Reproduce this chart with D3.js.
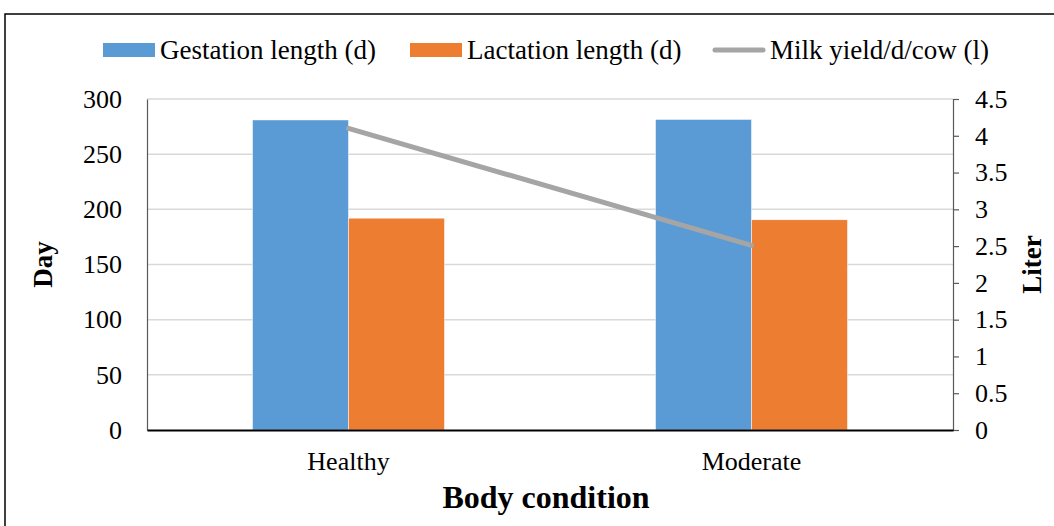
<!DOCTYPE html>
<html><head><meta charset="utf-8">
<script src="https://cdn.jsdelivr.net/npm/d3@7"></script>
<style>body{margin:0;background:#fff}svg{display:block}text{font-family:"Liberation Serif","Times New Roman",serif;fill:#000}</style>
</head><body><svg id="c" width="1054" height="526"></svg>
<script>
const categories = ["Healthy", "Moderate"];
const gestation = [281, 281.5];
const lactation = [192, 190.5];
const milkYield = [4.1, 2.51];
const leftTicks = [0, 50, 100, 150, 200, 250, 300];
const rightTicks = [0, 0.5, 1, 1.5, 2, 2.5, 3, 3.5, 4, 4.5];
const seriesNames = ["Gestation length (d)", "Lactation length (d)", "Milk yield/d/cow (l)"];
const colors = ["#5B9BD5", "#ED7D31", "#A5A5A5"];

const svg = d3.select("#c");
const fs = 26;
svg.append("rect").attr("x",5).attr("y",14).attr("width",1060).attr("height",530).attr("fill","none").attr("stroke","#000").attr("stroke-width",1.5);

const L=147,R=953,T=99,B=430;
const x = d3.scaleBand().domain(categories).range([L,R]);
const barW = 96;
const y = d3.scaleLinear().domain([0,300]).range([B,T]);
const y2 = d3.scaleLinear().domain([0,4.5]).range([B,T]);

// gridlines
svg.append("g").selectAll("line").data(leftTicks.filter(d=>d>0)).join("line")
  .attr("x1",L).attr("x2",R).attr("y1",d=>y(d)).attr("y2",d=>y(d)).attr("stroke","#d9d9d9").attr("stroke-width",1.5);

// left axis
const la = svg.append("g").attr("transform",`translate(${L},0)`).call(d3.axisLeft(y).tickValues(leftTicks).tickSize(0).tickPadding(25));
la.select(".domain").attr("stroke","#595959").attr("stroke-width",1.2);
la.selectAll("text").style("font-size",fs+"px").style("font-family","Liberation Serif").attr("fill","#000");

// right axis
const ra = svg.append("g").attr("transform",`translate(${R},0)`).call(d3.axisRight(y2).tickValues(rightTicks).tickSize(6).tickPadding(16).tickFormat(d=>String(d)));
ra.select(".domain").attr("stroke","#595959").attr("stroke-width",1.2);
ra.selectAll("line").attr("stroke","#595959").attr("stroke-width",1.2);
ra.selectAll("text").style("font-size",fs+"px").style("font-family","Liberation Serif").attr("fill","#000");

// bars
const series = [gestation, lactation];
series.forEach((vals,si)=>{
  svg.append("g").selectAll("rect").data(categories).join("rect")
    .attr("x",(c)=>x(c)+x.bandwidth()/2 + (si===0?-barW:0))
    .attr("y",(c,i)=>y(vals[i]))
    .attr("width",barW).attr("height",(c,i)=>B-y(vals[i]))
    .attr("fill",colors[si]).attr("stroke","#fff").attr("stroke-width",0.5);
});

// bottom axis
const xa = svg.append("g").attr("transform",`translate(0,${B})`).call(d3.axisBottom(x).tickSize(0).tickPadding(22));
xa.select(".domain").attr("stroke","#000").attr("stroke-width",2);
xa.selectAll("text").style("font-size",fs+"px").style("font-family","Liberation Serif").attr("fill","#000");

// line
const line = d3.line().x((d,i)=>x(categories[i])+x.bandwidth()/2).y(d=>y2(d));
svg.append("path").datum(milkYield).attr("d",line).attr("fill","none").attr("stroke",colors[2]).attr("stroke-width",5).attr("stroke-linecap","round");

// axis titles
svg.append("text").attr("transform",`translate(52,${(T+B)/2}) rotate(-90)`).attr("text-anchor","middle")
  .style("font-size","27px").style("font-weight","bold").text("Day");
svg.append("text").attr("transform",`translate(1041,${(T+B)/2}) rotate(-90)`).attr("text-anchor","middle")
  .style("font-size","27px").style("font-weight","bold").text("Liter");
svg.append("text").attr("x",546).attr("y",508).attr("text-anchor","middle")
  .style("font-size","32px").style("font-weight","bold").text("Body condition");

// legend
const legX = [103, 410, 713];
seriesNames.forEach((n,i)=>{
  const g = svg.append("g").attr("transform",`translate(${legX[i]},50)`);
  if(i<2) g.append("rect").attr("x",0).attr("y",-7).attr("width",52).attr("height",14).attr("fill",colors[i]);
  else g.append("line").attr("x1",2).attr("x2",50).attr("y1",0).attr("y2",0).attr("stroke",colors[2]).attr("stroke-width",5).attr("stroke-linecap","round");
  g.append("text").attr("x",57).attr("y",9).style("font-size","27px").text(n);
});
</script></body></html>
